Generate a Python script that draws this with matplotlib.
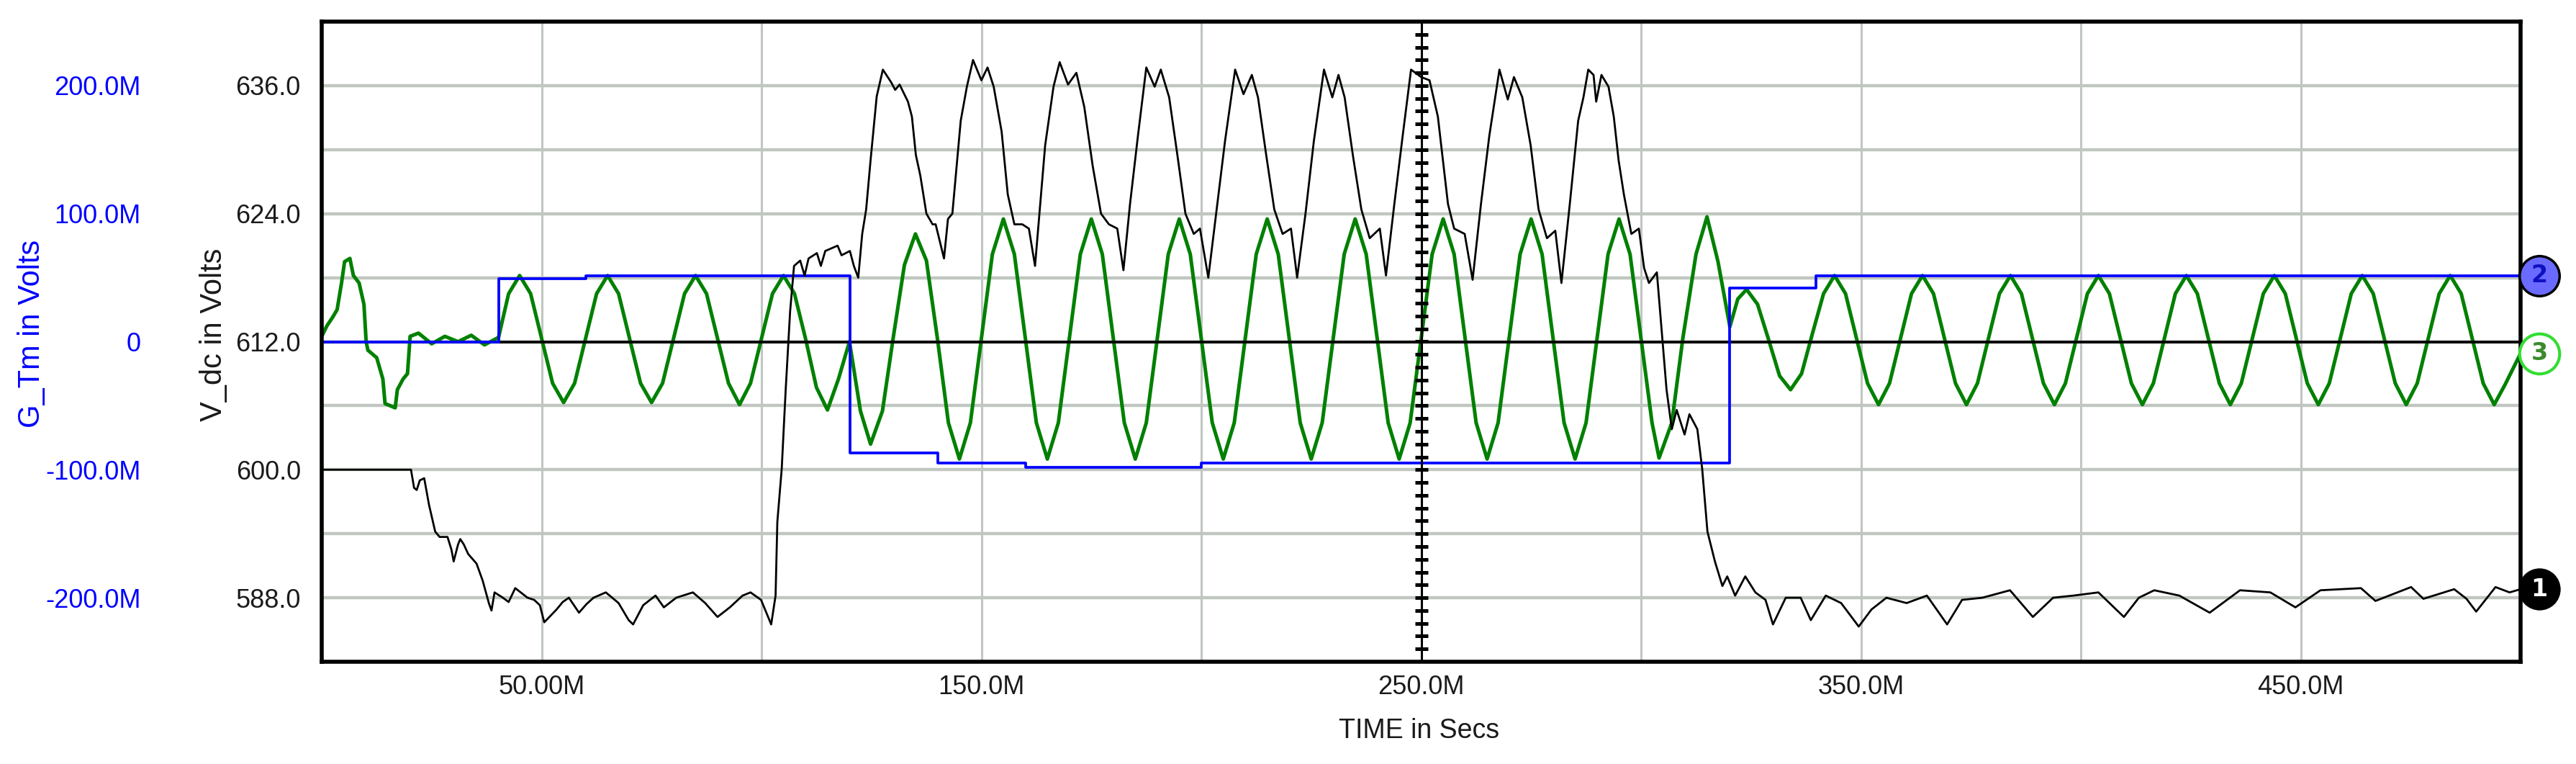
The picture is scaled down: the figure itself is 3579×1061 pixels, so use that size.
import numpy as np
import matplotlib
matplotlib.use("Agg")
import matplotlib.pyplot as plt
from matplotlib import transforms

# ---- data (time in ms, shown as "M" on the axis) ----
# trace 1: V_dc in volts
vdc_t = [0, 20.3, 21.0, 21.6, 22.3, 23.3, 24.4, 25.8, 26.8, 28.6,
         29.5, 30.0, 31.0, 31.5, 32.3, 33.3, 35.2, 36.6, 38.0, 38.6,
         39.3, 41.2, 42.5, 44.0, 46.8, 48.3, 49.6, 50.6, 53.4, 54.8,
         56.2, 58.5, 60.2, 61.8, 64.6, 67.5, 69.8, 70.8, 73.1, 75.9,
         77.8, 80.6, 84.4, 87.2, 90.0, 92.8, 95.7, 97.5, 99.9, 102.2,
         103.2, 103.6, 104.6, 105.5, 106.5, 107.4, 108.8, 109.8, 110.7, 112.6,
         113.5, 114.5, 117.3, 118.2, 120.1, 121.0, 122.0, 122.9, 123.8, 124.8,
         126.2, 127.6, 129.5, 130.4, 131.4, 133.3, 134.2, 135.1, 136.1, 137.5,
         138.9, 139.6, 141.5, 142.4, 143.4, 144.3, 145.3, 146.7, 148.1, 149.0,
         150.0, 151.4, 152.8, 154.6, 156.0, 157.5, 159.3, 160.8, 162.2, 163.1,
         164.5, 166.4, 167.8, 169.7, 171.6, 173.4, 175.3, 177.2, 179.0, 180.9,
         182.3, 183.8, 185.6, 187.5, 189.4, 190.8, 192.7, 194.6, 196.4, 198.3,
         199.7, 201.6, 203.5, 205.4, 207.7, 209.6, 211.5, 212.9, 214.8, 216.6,
         218.5, 220.4, 221.8, 223.7, 225.6, 227.9, 229.8, 231.2, 232.6, 234.5,
         236.4, 238.3, 240.6, 242.0, 243.9, 245.8, 247.7, 250.0, 251.9, 253.8,
         256.1, 257.5, 259.9, 261.7, 263.6, 265.5, 267.8, 269.7, 271.1, 273.0,
         274.9, 276.7, 278.6, 280.5, 281.9, 283.8, 285.7, 286.9, 288.0, 289.2,
         289.8, 291.0, 292.6, 293.8, 294.9, 296.1, 297.8, 299.5, 300.7, 301.8,
         303.6, 304.7, 305.8, 307.0, 308.1, 309.9, 311.0, 312.8, 313.9, 315.1,
         316.8, 318.5, 319.6, 321.4, 323.7, 326.0, 328.3, 330.0, 332.9, 336.3,
         338.6, 342.0, 345.5, 349.5, 352.4, 355.8, 360.4, 365.0, 369.6, 373.0,
         377.6, 383.9, 389.1, 393.7, 398.3, 404.0, 409.8, 413.2, 416.7, 422.4,
         429.3, 436.2, 443.1, 448.8, 454.5, 463.7, 467.0, 475.1, 477.9, 484.9,
         487.7, 489.9, 494.3, 497.5, 500.0]
vdc_v = [600.0, 600.0, 598.3, 598.1, 599.0, 599.2, 596.7, 594.2, 593.7, 593.7,
         592.5, 591.4, 593.0, 593.5, 593.0, 592.1, 591.2, 589.6, 587.5, 586.8,
         588.5, 588.0, 587.6, 588.9, 588.0, 587.8, 587.3, 585.7, 586.9, 587.6,
         588.0, 586.6, 587.4, 588.0, 588.5, 587.5, 585.9, 585.5, 587.3, 588.2,
         587.1, 588.0, 588.5, 587.5, 586.2, 587.1, 588.2, 588.5, 587.8, 585.5,
         588.2, 595.1, 600.1, 607.5, 614.8, 619.1, 619.6, 618.2, 619.8, 620.3,
         619.1, 620.5, 621.0, 620.1, 620.5, 619.1, 618.0, 622.1, 624.4, 629.0,
         635.0, 637.5, 636.3, 635.6, 636.1, 634.5, 633.1, 629.5, 627.6, 624.0,
         623.0, 623.0, 619.8, 623.5, 624.0, 628.1, 632.7, 635.9, 638.4, 637.5,
         636.5, 637.7, 635.9, 631.7, 625.8, 623.0, 623.0, 622.6, 619.1, 623.5,
         630.4, 635.9, 638.2, 636.1, 637.2, 634.0, 628.5, 624.0, 623.0, 622.6,
         618.7, 624.9, 631.3, 637.7, 635.9, 637.5, 634.9, 629.4, 624.0, 622.1,
         622.6, 618.0, 624.4, 630.8, 637.5, 635.2, 637.0, 634.9, 629.4, 624.4,
         622.1, 622.6, 618.0, 624.0, 630.8, 637.5, 634.9, 637.0, 634.9, 629.4,
         624.4, 621.7, 622.6, 618.2, 624.9, 631.3, 637.5, 636.8, 636.5, 633.1,
         624.9, 622.6, 622.1, 617.8, 624.9, 631.3, 637.5, 634.7, 636.8, 634.9,
         630.4, 624.4, 621.7, 622.4, 617.5, 624.9, 632.7, 634.9, 637.5, 637.0,
         634.5, 637.0, 635.9, 633.1, 629.0, 625.8, 622.1, 622.6, 618.9, 617.5,
         618.5, 613.0, 607.5, 603.8, 605.6, 603.3, 605.2, 603.8, 600.1, 594.2,
         591.4, 589.1, 590.0, 588.2, 590.0, 588.5, 587.8, 585.5, 588.0, 588.0,
         585.9, 588.2, 587.5, 585.3, 586.9, 588.0, 587.5, 588.2, 585.5, 587.8,
         588.0, 588.7, 586.2, 588.0, 588.2, 588.5, 586.2, 588.0, 588.7, 588.2,
         586.6, 588.7, 588.5, 587.1, 588.7, 588.9, 587.7, 589.0, 587.9, 588.8,
         587.9, 586.7, 589.0, 588.5, 588.8]

# trace 2: G_Tm, step changes (in M)
gtm_t = [0, 40.2, 60.1, 120.1, 140.1, 160.1, 200.0, 320.1, 339.7, 500.0]
gtm_v = [0.0, 49.2, 51.7, -86.7, -95.0, -98.3, -95.0, 41.7, 51.7, 51.7]

# trace 3: oscillating signal (deviation around the reference line)
osc_t = [0, 1.2, 2.5, 3.5, 4.5, 5.2, 6.4, 7.2, 8.5, 9.6,
         10.1, 10.5, 12.5, 13.9, 14.4, 16.7, 17.2, 18.5, 19.5, 20.1,
         22.0, 25.0, 28.0, 31.0, 34.0, 37.0,
         40.2, 42.5, 45, 47.5, 50, 52.5, 55, 57.5,
         60, 62.5, 65, 67.5, 70, 72.5, 75, 77.5,
         80, 82.5, 85, 87.5, 90, 92.5, 95, 97.5,
         100, 102.5, 105, 107.5, 110, 112.5, 115, 117.5,
         120, 122.5, 124.8, 127.5, 130, 132.5, 135, 137.5,
         140, 142.5, 145, 147.5, 150, 152.5, 155, 157.5,
         160, 162.5, 165, 167.5, 170, 172.5, 175, 177.5,
         180, 182.5, 185, 187.5, 190, 192.5, 195, 197.5,
         200, 202.5, 205, 207.5, 210, 212.5, 215, 217.5,
         220, 222.5, 225, 227.5, 230, 232.5, 235, 237.5,
         240, 242.5, 245, 247.5, 250, 252.5, 255, 257.5,
         260, 262.5, 265, 267.5, 270, 272.5, 275, 277.5,
         280, 282.5, 285, 287.5, 290, 292.5, 295, 297.5,
         300, 302.5, 304.1, 307, 309.5, 312.5, 315, 317.5,
         320.2, 322, 324, 326.5, 329, 331.5, 334, 336.5, 339, 341.5,
         344, 346.5, 349, 351.5, 354, 356.5, 359, 361.5,
         364, 366.5, 369, 371.5, 374, 376.5, 379, 381.5,
         384, 386.5, 389, 391.5, 394, 396.5, 399, 401.5,
         404, 406.5, 409, 411.5, 414, 416.5, 419, 421.5,
         424, 426.5, 429, 431.5, 434, 436.5, 439, 441.5,
         444, 446.5, 449, 451.5, 454, 456.5, 459, 461.5,
         464, 466.5, 469, 471.5, 474, 476.5, 479, 481.5,
         484, 486.5, 489, 491.5, 494, 496.5, 500]
osc_v = [0.5, 1.5, 2.3, 3.0, 5.5, 7.5, 7.8, 6.2, 5.5, 3.5,
         0.0, -0.8, -1.5, -3.5, -5.8, -6.2, -4.5, -3.5, -3.0, 0.5,
         0.8, -0.2, 0.5, 0.0, 0.6, -0.3,
         0.4, 4.5, 6.2, 4.5, 0.3, -3.9, -5.7, -3.9,
         0.3, 4.5, 6.2, 4.5, 0.3, -3.9, -5.7, -3.9,
         0.3, 4.5, 6.2, 4.5, 0.3, -3.9, -5.9, -3.9,
         0.3, 4.5, 6.2, 4.5, 0.3, -4.3, -6.4, -3.5,
         0.0, -6.5, -9.6, -6.5, 0.5, 7.2, 10.1, 7.6,
         0.3, -7.6, -11.0, -7.6, 0.3, 8.2, 11.5, 8.2,
         0.3, -7.6, -11.0, -7.6, 0.3, 8.2, 11.5, 8.2,
         0.3, -7.6, -11.0, -7.6, 0.3, 8.2, 11.5, 8.2,
         0.3, -7.6, -11.0, -7.6, 0.3, 8.2, 11.5, 8.2,
         0.3, -7.6, -11.0, -7.6, 0.3, 8.2, 11.5, 8.2,
         0.3, -7.6, -11.0, -7.6, 0.3, 8.2, 11.5, 8.2,
         0.3, -7.6, -11.0, -7.6, 0.3, 8.2, 11.5, 8.2,
         0.3, -7.6, -11.0, -7.6, 0.3, 8.2, 11.5, 8.2,
         0.3, -7.6, -10.9, -7.6, 0.3, 8.2, 11.7, 7.5,
         1.4, 4.0, 4.9, 3.5, 0.2, -3.2, -4.5, -3.0, 0.8, 4.5,
         6.2, 4.5, 0.3, -3.9, -5.9, -3.9, 0.3, 4.5,
         6.2, 4.5, 0.3, -3.9, -5.9, -3.9, 0.3, 4.5,
         6.2, 4.5, 0.3, -3.9, -5.9, -3.9, 0.3, 4.5,
         6.2, 4.5, 0.3, -3.9, -5.9, -3.9, 0.3, 4.5,
         6.2, 4.5, 0.3, -3.9, -5.9, -3.9, 0.3, 4.5,
         6.2, 4.5, 0.3, -3.9, -5.9, -3.9, 0.3, 4.5,
         6.2, 4.5, 0.3, -3.9, -5.9, -3.9, 0.3, 4.5,
         6.2, 4.5, 0.3, -3.9, -5.9, -4.0, -1.1]

# axes ticks / labels
x_label_pos = [50, 150, 250, 350, 450]
x_labels = ["50.00M", "150.0M", "250.0M", "350.0M", "450.0M"]
x_grid_minor = [100, 200, 300, 400]
vdc_ticks = [588, 600, 612, 624, 636]
vdc_labels = ["588.0", "600.0", "612.0", "624.0", "636.0"]
vdc_grid = [588, 594, 600, 606, 612, 618, 624, 630, 636]
vdc_ref = 612
gtm_ticks = [-200, -100, 0, 100, 200]
gtm_labels = ["-200.0M", "-100.0M", "0", "100.0M", "200.0M"]
cursor_t = 250

sans = ["Liberation Sans", "DejaVu Sans"]
GRID = "#c0c6c0"

fig = plt.figure(figsize=(35.79, 10.61), dpi=100)
L, B, R, T = 447 / 3579, 1 - 919 / 1061, 3502 / 3579, 1 - 30 / 1061
ax_g = fig.add_axes([L, B, R - L, T - B])
ax_b = ax_g.twinx()
ax_v = ax_g.twinx()
ax_g.set_zorder(1)
ax_b.set_zorder(2)
ax_v.set_zorder(3)

for a in (ax_g, ax_b, ax_v):
    a.set_xlim(0, 500)
    a.patch.set_visible(False)
ax_g.patch.set_visible(True)
ax_g.set_ylim(582 - vdc_ref, 642 - vdc_ref)
ax_b.set_ylim(-250, 250)
ax_v.set_ylim(582, 642)

# grid on the bottom axes
ax_g.set_xticks(x_label_pos, labels=x_labels)
ax_g.set_xticks(x_grid_minor, minor=True)
ax_g.set_yticks([v - vdc_ref for v in vdc_grid])
ax_g.set_axisbelow(True)
ax_g.grid(axis="x", which="both", color=GRID, lw=2.2)
ax_g.grid(axis="y", which="major", color=GRID, lw=3.2)
ax_g.tick_params(axis="y", left=False, right=False, labelleft=False, labelright=False)
ax_g.tick_params(axis="x", which="both", length=0, pad=13, labelsize=26,
                 labelcolor="#1a1a1a")
for lab in ax_g.get_xticklabels():
    lab.set_family(sans)
for s in ax_g.spines.values():
    s.set_visible(False)

ax_g.plot(osc_t, osc_v, color="#008000", lw=3.6, zorder=2)
ax_g.axhline(0, color="black", lw=2.8, zorder=3)

# blue G_Tm
ax_b.step(gtm_t, gtm_v, where="post", color="#0000ff", lw=2.7)
ax_b.yaxis.tick_left()
ax_b.set_yticks(gtm_ticks, labels=gtm_labels)
ax_b.tick_params(axis="y", length=0, pad=181, labelsize=26, labelcolor="#0000ff")
for lab in ax_b.get_yticklabels():
    lab.set_family(sans)
for s in ax_b.spines.values():
    s.set_visible(False)

# black V_dc
ax_v.plot(vdc_t, vdc_v, color="black", lw=2.0)
ax_v.yaxis.tick_left()
ax_v.set_yticks(vdc_ticks, labels=vdc_labels)
ax_v.tick_params(axis="y", length=0, pad=21, labelsize=26, labelcolor="#1a1a1a")
for lab in ax_v.get_yticklabels():
    lab.set_family(sans)
for s in ax_v.spines.values():
    s.set_linewidth(4)
    s.set_color("black")

# cursor at 250M
ax_v.axvline(cursor_t, color="black", lw=2.2)
marks = np.arange(583.2, 641.5, 1.2)
ax_v.plot(np.full(len(marks), cursor_t), marks, ls="none", marker="_",
          ms=13, mew=3.6, color="black")

# axis titles
ax_v.text(-0.1319, 0.513, "G_Tm in Volts", transform=ax_v.transAxes, rotation=90,
          ha="center", va="center", fontsize=30, color="#0000ff", family=sans)
ax_v.text(-0.0491, 0.511, "V_dc in Volts", transform=ax_v.transAxes, rotation=90,
          ha="center", va="center", fontsize=30, color="#1a1a1a", family=sans)
ax_v.text(0.4992, -0.108, "TIME in Secs", transform=ax_v.transAxes,
          ha="center", va="center", fontsize=27, color="#1a1a1a", family=sans)

# end-of-trace markers
mx = 1.0085
tr_v = transforms.blended_transform_factory(ax_v.transAxes, ax_v.transData)
tr_b = transforms.blended_transform_factory(ax_v.transAxes, ax_b.transData)
tr_g = transforms.blended_transform_factory(ax_v.transAxes, ax_g.transData)

ax_v.plot([mx], [gtm_v[-1]], "o", ms=40, mfc="#6a6aff", mec="black", mew=2.5,
          transform=tr_b, clip_on=False, zorder=10)
ax_v.text(mx, gtm_v[-1], "2", transform=tr_b, ha="center", va="center",
          fontsize=24, fontweight="bold", color="#1010c0", zorder=11, clip_on=False)

ax_v.plot([mx], [osc_v[-1]], "o", ms=40, mfc="white", mec="#33dd33", mew=3,
          transform=tr_g, clip_on=False, zorder=10)
ax_v.text(mx, osc_v[-1], "3", transform=tr_g, ha="center", va="center",
          fontsize=24, fontweight="bold", color="#3a8a2a", zorder=11, clip_on=False)

ax_v.plot([mx], [vdc_v[-1]], "o", ms=40, mfc="black", mec="black", mew=2,
          transform=tr_v, clip_on=False, zorder=10)
ax_v.text(mx, vdc_v[-1], "1", transform=tr_v, ha="center", va="center",
          fontsize=24, fontweight="bold", color="white", zorder=11, clip_on=False)

fig.savefig("out.png", dpi=100, facecolor="white")
